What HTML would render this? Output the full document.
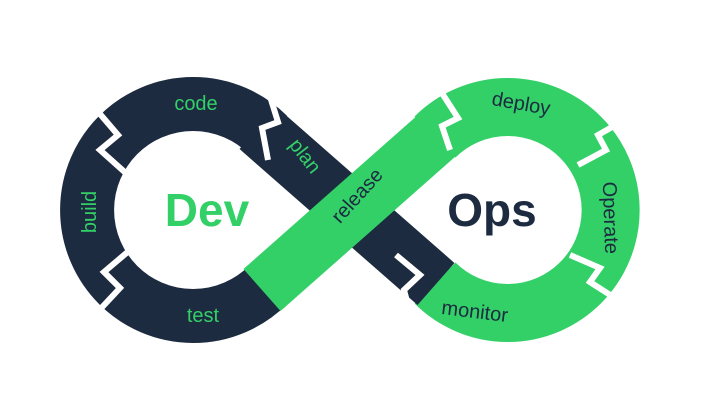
<!DOCTYPE html>
<html><head><style>body{margin:0;background:#fff}svg{display:block}</style></head><body>
<svg width="705" height="413" viewBox="0 0 705 413" xmlns="http://www.w3.org/2000/svg" font-family="Liberation Sans, sans-serif">
<rect width="705" height="413" fill="#fff"/>
<!-- left ring -->
<path d="M268,135 A106,106 0 1 0 268,285" fill="none" stroke="#1c2b40" stroke-width="54"/>
<!-- right ring -->
<path d="M435,137 A103,103 0 1 1 435,283" fill="none" stroke="#33d068" stroke-width="58"/>
<!-- dark diagonal -->
<line x1="258" y1="128" x2="436" y2="284" stroke="#1c2b40" stroke-width="56"/>
<!-- green diagonal -->
<line x1="262" y1="290" x2="442" y2="131" stroke="#33d068" stroke-width="56"/>
<!-- separators -->
<g stroke="#fff" stroke-width="6" fill="none">
<polyline points="88,100 118,135 100,150 128,175"/>
<polyline points="92,318 120,288 104,272 130,250"/>
<polyline points="268,90 278,122 262,128 268,160"/>
<polyline points="440,90 458,118 442,126 450,150"/>
<polyline points="628,118 598,135 606,150 578,165"/>
<polyline points="618,300 590,282 600,268 570,255"/>
<polyline points="396,255 420,275 404,290 412,320"/>
</g>
<g fill="#33d068" font-size="20">
<text x="196" y="110" text-anchor="middle">code</text>
<text transform="translate(96,212) rotate(-90)" text-anchor="middle">build</text>
<text x="203" y="322" text-anchor="middle">test</text>
<text transform="translate(300,160) rotate(52)" text-anchor="middle">plan</text>
</g>
<g fill="#1c2b40" font-size="20">
<text transform="translate(362,200) rotate(-48)" text-anchor="middle">release</text>
<text transform="translate(520,110) rotate(10)" text-anchor="middle">deploy</text>
<text transform="translate(604,218) rotate(88)" text-anchor="middle">Operate</text>
<text transform="translate(474,318) rotate(7)" text-anchor="middle">monitor</text>
</g>
<text x="207" y="226" text-anchor="middle" font-size="46" font-weight="bold" fill="#33d068">Dev</text>
<text x="492" y="226" text-anchor="middle" font-size="46" font-weight="bold" fill="#1c2b40">Ops</text>
</svg>
</body></html>
